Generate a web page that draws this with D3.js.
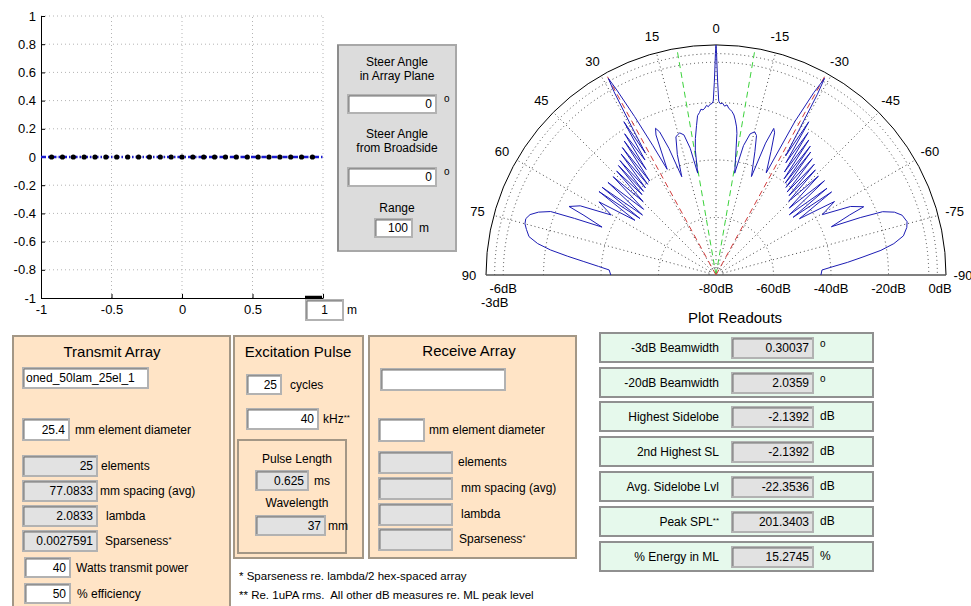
<html>
<script src="https://d3js.org/d3.v7.min.js"></script>
<style>
body {margin:0; background:#fff;}
text {font-family: "Liberation Sans", Arial, Helvetica, sans-serif; fill:#000;}
</style>
<body>
<svg width=971 height=606></svg>
<script>
// ---- data ----
// element positions along the array (m)
var elementX = [-0.925,-0.848,-0.771,-0.694,-0.617,-0.540,-0.463,-0.385,-0.308,-0.231,-0.154,-0.077,0,
                0.077,0.154,0.231,0.308,0.385,0.463,0.540,0.617,0.694,0.771,0.848,0.925]
var arrayLine = [-1, 1]
var xTicks = [-1,-0.5,0,0.5,1]
var yTicks = [-1,-0.8,-0.6,-0.4,-0.2,0,0.2,0.4,0.6,0.8,1]

// polar beam pattern: [angle deg (positive = left), level dB]
var angleTicks = [90,75,60,45,30,15,0,-15,-30,-45,-60,-75,-90]
var dbRings = [-60,-40,-20,-6,-3]
var dbTicksRight = [-80,-60,-40,-20,0]
var dbTicksLeft = [-6,-3]
var gratingAngles = [28.7,-28.7]
var elementAngles = [9.8,-9.8]
var patternLeft = [[0,0],[0.15,-3],[0.3,-8],[0.5,-13],[0.9,-19.5],[1.3,-20.3],[2.0,-20.6],[2.6,-21.4],[3.2,-20.9],
  [3.8,-21.8],[4.5,-22.4],[5.2,-22.1],[5.8,-23.2],[6.6,-24.2],[7.4,-27.5],[8.6,-32],[9.4,-36],[10.2,-44],
  [11.5,-35],[12.9,-30],[14.3,-29],[15.3,-29.4],[16.2,-30],[17.8,-36],[19.2,-43.8],
  [20.4,-33],[21.5,-26.5],[22.4,-24.8],[23.2,-27],[24.8,-39.5],
  [26.0,-30],[27.2,-18],[28.2,-7],[28.7,-2.1],[29.1,-7],[29.6,-20],[30.1,-31],
  [31.0,-17.8],[31.7,-33],[32.9,-21.5],[33.5,-36],[34.4,-23.5],[35.2,-40],[36.3,-25],[37.0,-40.5],[38.1,-26.5],
  [39.0,-41],[40.0,-28],[40.9,-41.5],[41.7,-29],[42.6,-42],[43.7,-30],[44.8,-44],[46.3,-30.5],[47.8,-46],
  [49.4,-30.5],[50.8,-47],[52.4,-30],[53.4,-47],[54.5,-30],[56.0,-46],[58.0,-32],[60.2,-38],[63.0,-27],
  [65.0,-23.6],[65.7,-29.6],[67.2,-37],[68.2,-27],[69.0,-18.4],[70.5,-14.5],[72.0,-12],[73.5,-11],[75.0,-11.2],
  [76.5,-12.2],[78.4,-13.6],[80.0,-17],[81.4,-21.8],[82.8,-28],[84.2,-33.8],[85.8,-39],[87.3,-42.8],[90,-43.4]]
var patternRight = [[0,0],[-0.15,-3],[-0.3,-8],[-0.5,-13],[-0.9,-19.5],[-1.4,-20.4],[-2.2,-20.2],[-2.9,-21.2],
  [-3.7,-20.7],[-4.4,-21.9],[-5.0,-22.3],[-5.6,-22.9],[-6.4,-24.0],[-7.1,-25.7],[-7.9,-28],[-8.4,-30.2],[-9.1,-36],[-10.4,-44],
  [-12.0,-34],[-13.6,-29.5],[-15.1,-28.4],[-16.2,-29.5],[-17.5,-35],[-19.8,-43.6],
  [-20.6,-31],[-21.5,-25.2],[-22.4,-26.5],[-24.0,-33],[-26.2,-40.4],
  [-27.2,-20],[-28.2,-8],[-28.9,-1.9],[-29.3,-8],[-29.8,-22],[-30.3,-32],
  [-31.2,-17.7],[-31.9,-34],[-32.9,-21],[-33.6,-37],[-34.5,-23],[-35.3,-39],[-36.2,-24.5],[-37.0,-40],[-37.6,-26],
  [-38.6,-41],[-39.6,-27.5],[-40.6,-42],[-41.6,-28.5],[-42.6,-42.5],[-43.4,-29.7],[-44.6,-44],[-46.0,-30.5],[-47.6,-45.5],
  [-49.0,-30],[-50.6,-47],[-52.0,-31],[-53.2,-46.5],[-54.3,-30.5],[-56.0,-45],[-58.2,-31.5],[-60.4,-37.5],[-63.0,-27.5],
  [-65.2,-23.4],[-65.8,-29],[-67.3,-36.5],[-68.3,-26],[-69.2,-18],[-70.6,-14.2],[-72.2,-12],[-74.4,-11],[-76.0,-11.6],
  [-78.2,-13.4],[-80.0,-17.2],[-81.5,-22],[-83.0,-28.5],[-84.5,-34],[-86.0,-39.5],[-87.3,-43.1],[-90,-43.5]]

// GUI readouts / fields
var steerValues = ["0","0","100"]
var scaleValue = "1"
var transmitName = "oned_50lam_25el_1"
var transmitDiameter = "25.4"
var transmitValues = ["25","77.0833","2.0833","0.0027591"]
var transmitLabels = ["elements","mm spacing (avg)","lambda","Sparseness"]
var transmitPower = ["40","50"]
var pulseValues = ["25","40"]
var pulseDerived = ["0.625","37"]
var receiveLabels = ["elements","mm spacing (avg)","lambda","Sparseness"]
var readoutLabels = ["-3dB Beamwidth","-20dB Beamwidth","Highest Sidelobe","2nd Highest SL","Avg. Sidelobe Lvl","Peak SPL","% Energy in ML"]
var readoutValues = ["0.30037","2.0359","-2.1392","-2.1392","-22.3536","201.3403","15.2745"]
var readoutUnits = ["o","o","dB","dB","dB","dB","%"]

var svg = d3.select("svg")
var rad = function(d) { return d*Math.PI/180 }

// ---- array geometry plot ----
var x = d3.scaleLinear().domain([-1,1]).range([41,323])
var y = d3.scaleLinear().domain([-1,1]).range([298,16])
var plot = svg.append("g")
plot.selectAll(".vg").data(xTicks.slice(1)).enter().append("line")
  .attr("x1",d=>x(d)).attr("x2",d=>x(d)).attr("y1",y(-1)).attr("y2",y(1))
  .attr("stroke","#b4b4b4").attr("stroke-dasharray","1,3")
plot.selectAll(".hg").data(yTicks.slice(1)).enter().append("line")
  .attr("y1",d=>y(d)).attr("y2",d=>y(d)).attr("x1",x(-1)).attr("x2",x(1))
  .attr("stroke","#b4b4b4").attr("stroke-dasharray","1,3")
var xa = plot.append("g").attr("transform","translate(0,"+y(-1)+")")
  .call(d3.axisBottom(x).tickValues(xTicks).tickFormat(d=>String(d)).tickSizeInner(-4).tickSizeOuter(0).tickPadding(7))
var ya = plot.append("g").attr("transform","translate("+x(-1)+",0)")
  .call(d3.axisLeft(y).tickValues(yTicks).tickFormat(d=>String(d)).tickSizeInner(-4).tickSizeOuter(0).tickPadding(5))
plot.selectAll(".tick text").style("font-size","13px").style("font-family","Liberation Sans, Arial")
plot.selectAll(".domain").attr("stroke","#000")
plot.append("line").attr("x1",x(arrayLine[0])).attr("x2",x(arrayLine[1])).attr("y1",y(0)).attr("y2",y(0))
  .attr("stroke","#1a1ad0").attr("stroke-width",2.5).attr("stroke-dasharray","5,2,1.5,2")
plot.selectAll("circle").data(elementX).enter().append("circle")
  .attr("cx",d=>x(d)).attr("cy",y(0)).attr("r",2.6).attr("fill","#000")
// scale bar widget
plot.append("line").attr("x1",305).attr("x2",322).attr("y1",297).attr("y2",297).attr("stroke","#000").attr("stroke-width",2.5)

// ---- GUI helpers ----
function box(x0,y0,w,h,fill,stroke,sw) {
  svg.append("rect").attr("x",x0).attr("y",y0).attr("width",w).attr("height",h)
    .attr("fill",fill).attr("stroke",stroke).attr("stroke-width",sw||2)
}
function label(x0,y0,txt,anchor,size,sup) {
  var t = svg.append("text").attr("x",x0).attr("y",y0).attr("dy","0.35em")
    .attr("text-anchor",anchor||"start").style("font-size",(size||12)+"px").attr("xml:space","preserve").text(txt)
  if (sup) t.append("tspan").attr("dy","-0.45em").style("font-size","8px").text(sup)
  return t
}
function field(x0,y0,w,h,txt,fill,anchor) {
  box(x0,y0,w,h,fill,"#b2b2b2",2)
  svg.append("path").attr("d","M"+(x0+1)+","+(y0+h-1)+"V"+(y0+1)+"H"+(x0+w-1))
    .attr("fill","none").attr("stroke","#707070").attr("stroke-width",1)
  if (anchor=="start") label(x0+3,y0+h/2,txt,"start")
  else if (anchor=="middle") label(x0+w/2,y0+h/2,txt,"middle")
  else label(x0+w-4,y0+h/2,txt,"end")
}
function degree(x0,y0) { label(x0,y0,"o","start",10) }

var white = "#ffffff", gray = "#e2e2e2", peach = "#ffe4c6", mint = "#e6f9ec", border = "#a39786"

field(306,300,37,20,scaleValue,white,"middle")
label(347,310,"m")

// ---- steer panel ----
box(338,45,118,206,"#dcdcdc","#a8a8a8",2)
svg.append("line").attr("x1",338).attr("x2",338).attr("y1",45).attr("y2",251).attr("stroke","#8c8c8c").attr("stroke-width",2)
label(397,62,"Steer Angle","middle")
label(397,76,"in Array Plane","middle")
field(348,95,88,18,steerValues[0],white)
degree(444,98)
label(397,134,"Steer Angle","middle")
label(397,148,"from Broadside","middle")
field(348,168,88,18,steerValues[1],white)
degree(444,171)
label(397,208,"Range","middle")
field(375,219,37,18,steerValues[2],white)
label(419,228,"m")

// ---- polar beam pattern ----
var cx = 716, cy = 275
var r = d3.scaleLinear().domain([-80,0]).range([0,230])
var polar = svg.append("g").attr("transform","translate("+cx+","+cy+")")
function semi(rr) { var p = d3.path(); p.moveTo(-rr,0); p.arc(0,0,rr,Math.PI,2*Math.PI); return p.toString() }
polar.selectAll(".ring").data(dbRings).enter().append("path")
  .attr("d",d=>semi(r(d))).attr("fill","none").attr("stroke","#444").attr("stroke-dasharray","1,3")
polar.append("path").attr("d",semi(r(-77.6))).attr("fill","none").attr("stroke","#444").attr("stroke-dasharray","1,2")
polar.selectAll(".spoke").data(angleTicks.filter(d=>Math.abs(d)<90)).enter().append("line")
  .attr("x1",d=>-r(-77.6)*Math.sin(rad(d))).attr("y1",d=>-r(-77.6)*Math.cos(rad(d)))
  .attr("x2",d=>-r(0)*Math.sin(rad(d))).attr("y2",d=>-r(0)*Math.cos(rad(d)))
  .attr("stroke","#444").attr("stroke-dasharray","1,3")
polar.append("path").attr("d",semi(r(0))).attr("fill","none").attr("stroke","#000").attr("stroke-width",1)
polar.append("line").attr("x1",-r(0)).attr("x2",r(0)).attr("y1",0).attr("y2",0).attr("stroke","#555").attr("stroke-width",1.5)
polar.selectAll(".el").data(elementAngles).enter().append("line")
  .attr("x1",0).attr("y1",0).attr("x2",d=>-r(0)*Math.sin(rad(d))).attr("y2",d=>-r(0)*Math.cos(rad(d)))
  .attr("stroke","#3cd23c").attr("stroke-dasharray","6,4")
polar.selectAll(".gl").data(gratingAngles).enter().append("line")
  .attr("x1",0).attr("y1",0).attr("x2",d=>-r(0)*Math.sin(rad(d))).attr("y2",d=>-r(0)*Math.cos(rad(d)))
  .attr("stroke","#d23c3c").attr("stroke-dasharray","6,4")
var pattern = patternRight.slice().reverse().concat(patternLeft.slice(1))
polar.append("path").datum(pattern)
  .attr("d",d3.lineRadial().angle(d=>-rad(d[0])).radius(d=>r(d[1])))
  .attr("fill","none").attr("stroke","#1c1cb4").attr("stroke-width",1)
polar.selectAll(".al").data(angleTicks).enter().append("text")
  .attr("x",d=>-247*Math.sin(rad(d))).attr("y",d=>-247*Math.cos(rad(d))).attr("dy","0.35em")
  .attr("text-anchor","middle").style("font-size","13px").text(d=>String(d))
polar.selectAll(".dbr").data(dbTicksRight).enter().append("text")
  .attr("x",d=>d==0 ? r(d)-6 : r(d)).attr("y",13).attr("dy","0.35em")
  .attr("text-anchor","middle").style("font-size","13px").text(d=>d+"dB")
polar.selectAll(".dbl").data(dbTicksLeft).enter().append("text")
  .attr("x",d=>-r(d)).attr("y",(d,i)=>13+i*14).attr("dy","0.35em")
  .attr("text-anchor","middle").style("font-size","13px").text(d=>d+"dB")

// ---- transmit array panel ----
box(13,336,217,276,peach,border,2)
label(112,352,"Transmit Array","middle",15)
field(23,368,125,20,transmitName,white,"start")
field(23,419,46,21,transmitDiameter,white)
label(75,430,"mm element diameter")
var tY = [456,481,506,531], tLx = [101,100,106,105]
transmitValues.forEach(function(v,i) {
  field(23,tY[i],74,20,v,gray)
  label(tLx[i],tY[i]+10,transmitLabels[i],"start",12,i==3?"*":null)
})
field(25,558,45,19,transmitPower[0],white)
label(76,568,"Watts transmit power")
field(25,584,45,19,transmitPower[1],white)
label(77,594,"% efficiency")

// ---- excitation pulse panel ----
box(234,336,129,222,peach,border,2)
label(298,352,"Excitation Pulse","middle",15)
field(247,375,34,19,pulseValues[0],white)
label(290,385,"cycles")
field(247,409,71,20,pulseValues[1],white)
label(323,419,"kHz","start",12,"**")
box(238,440,108,113,peach,border,2)
label(297,459,"Pulse Length","middle")
field(256,471,52,19,pulseDerived[0],gray)
label(314,481,"ms")
label(297,503,"Wavelength","middle")
field(256,516,69,19,pulseDerived[1],gray)
label(328,526,"mm")

// ---- receive array panel ----
box(369,336,207,222,peach,border,2)
label(469,351,"Receive Array","middle",15)
field(381,369,124,21,"",white)
field(379,419,45,22,"",white)
label(429,430,"mm element diameter")
var rY = [452,478,504,529], rLx = [458,461,461,459]
receiveLabels.forEach(function(v,i) {
  field(379,rY[i],73,21,"",gray)
  label(rLx[i],rY[i]+10,v,"start",12,i==3?"*":null)
})

// footnotes
label(239,576,"* Sparseness re. lambda/2 hex-spaced array","start",11.5)
label(239,595,"** Re. 1uPA rms.  All other dB measures re. ML peak level","start",11.5)

// ---- plot readouts ----
label(735,318,"Plot Readouts","middle",15)
var rowY = [333,368,402,437,472,507,542]
readoutLabels.forEach(function(v,i) {
  box(600,rowY[i],273,29,mint,"#909090",2)
  label(719,rowY[i]+15,v,"end",12,i==5?"**":null)
  field(732,rowY[i]+5,81,20,readoutValues[i],gray)
  if (readoutUnits[i]=="o") degree(820,rowY[i]+10)
  else label(820,rowY[i]+14,readoutUnits[i])
})
</script>
</body>
</html>
